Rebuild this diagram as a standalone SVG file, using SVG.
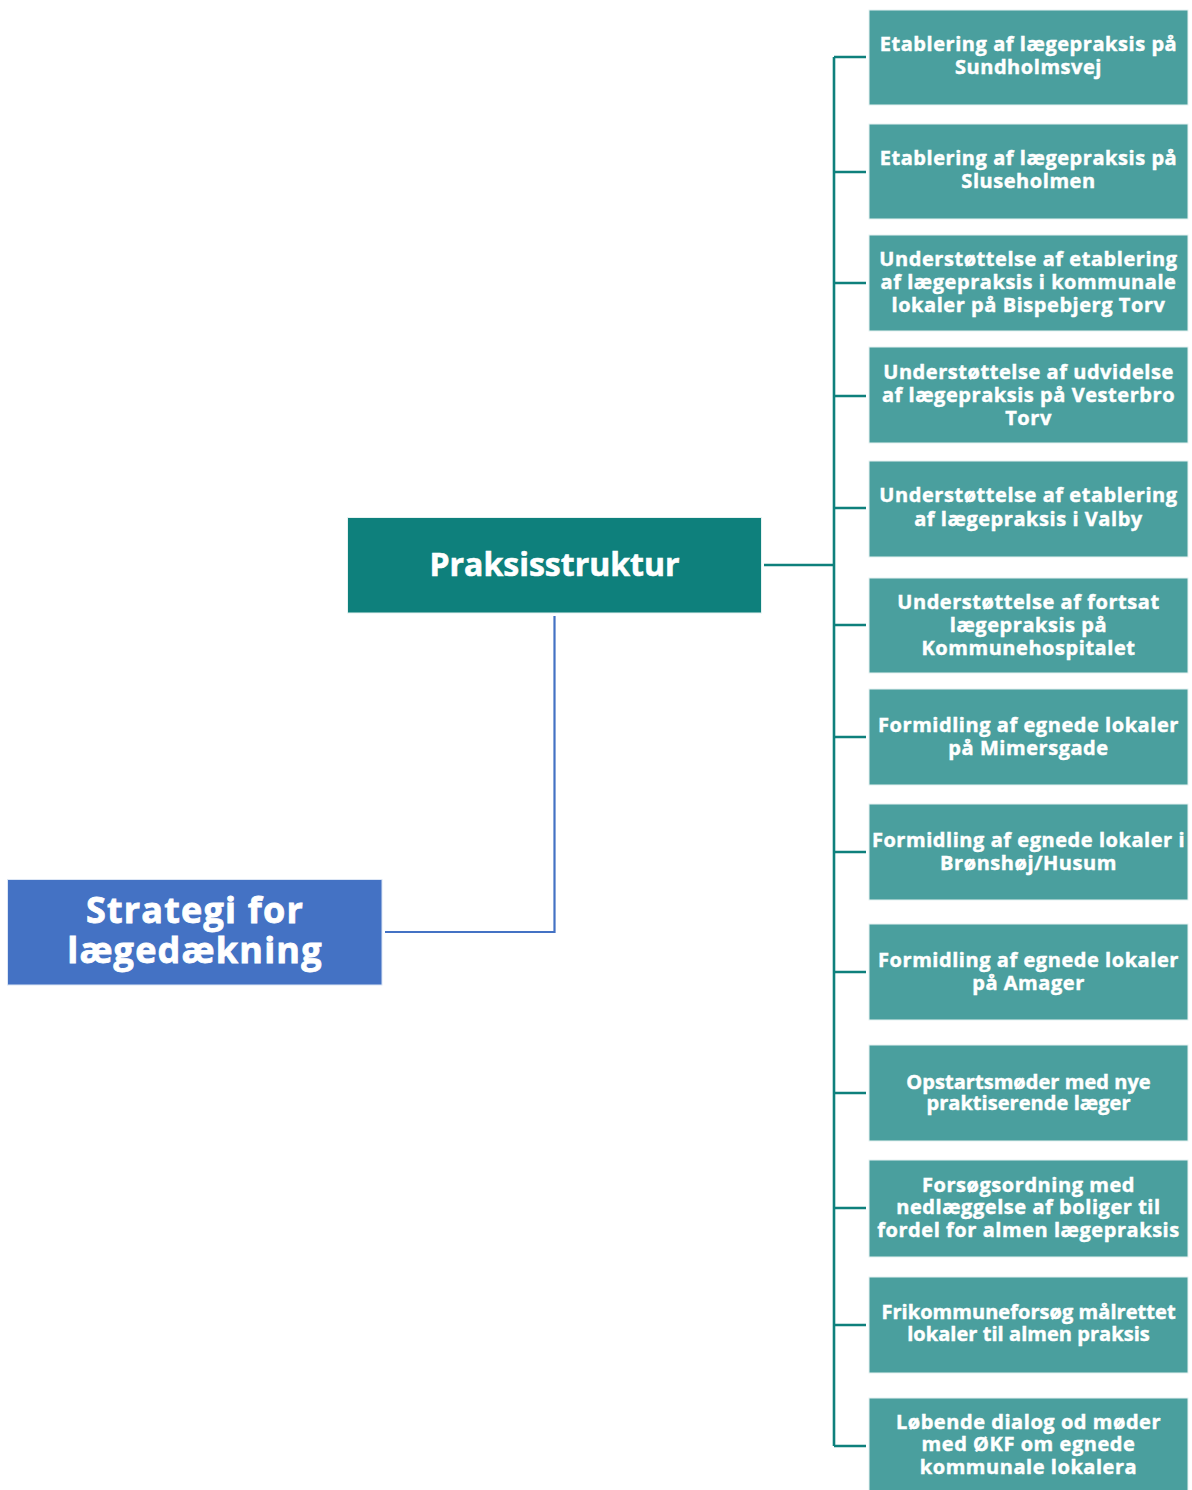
<svg xmlns="http://www.w3.org/2000/svg" width="1192" height="1490" viewBox="0 0 1192 1490">
<style>
  .leaf rect { fill: #4A9F9E; stroke: #E6F2F1; stroke-width: 1; }
  .leaf text { font-family: "Open Sans", "Liberation Sans", sans-serif; font-weight: 700; font-size: 20px; letter-spacing: 0.55px; fill: #FFFFFF; stroke: #FFFFFF; stroke-width: 0.45px; text-anchor: middle; }
  .leaf text.tight { letter-spacing: 0.05px; }
  .mid rect { fill: #0E807C; stroke: #E6F2F1; stroke-width: 1; }
  .mid text { font-family: "Open Sans", "Liberation Sans", sans-serif; font-weight: 700; font-size: 32px; letter-spacing: 0px; fill: #FFFFFF; stroke: #FFFFFF; stroke-width: 0.6px; text-anchor: middle; }
  .root rect { fill: #4472C4; stroke: #DCE6F5; stroke-width: 1; }
  .root text { font-family: "Open Sans", "Liberation Sans", sans-serif; font-weight: 700; font-size: 36px; letter-spacing: 1.2px; fill: #FFFFFF; stroke: #FFFFFF; stroke-width: 0.8px; text-anchor: middle; }
  .teal { stroke: #0E807C; stroke-width: 2.6; fill: none; }
  .blue { stroke: #4472C4; stroke-width: 2.2; fill: none; }
</style>
<rect width="1192" height="1490" fill="#FFFFFF"/>
<g id="connectors">
  <path class="blue" d="M554.5 616 V932 H385"/>
  <path class="teal" d="M764 565 H834"/>
  <path class="teal" d="M834 57 V1446"/>
  <path class="teal" d="M834 57 H866 M834 172 H866 M834 283 H866 M834 396 H866 M834 508 H866 M834 625 H866 M834 737 H866 M834 852 H866 M834 972 H866 M834 1093 H866 M834 1208 H866 M834 1325 H866 M834 1446 H866"/>
</g>
<g id="node-root" class="root">
  <rect x="7.5" y="879.5" width="374.5" height="105.5"/>
  <text x="195" y="923">Strategi for</text>
  <text x="195" y="963">lægedækning</text>
</g>
<g id="node-praksisstruktur" class="mid">
  <rect x="347.5" y="517.5" width="414" height="95.5"/>
  <text x="554.5" y="576">Praksisstruktur</text>
</g>
<g id="node-1" class="leaf">
  <rect x="869" y="10" width="319" height="95"/>
  <text x="1028.5" y="51">Etablering af lægepraksis på</text>
  <text x="1028.5" y="74">Sundholmsvej</text>
</g>
<g id="node-2" class="leaf">
  <rect x="869" y="124" width="319" height="95"/>
  <text x="1028.5" y="165">Etablering af lægepraksis på</text>
  <text x="1028.5" y="188">Sluseholmen</text>
</g>
<g id="node-3" class="leaf">
  <rect x="869" y="235" width="319" height="96"/>
  <text x="1028.5" y="265.5">Understøttelse af etablering</text>
  <text x="1028.5" y="288.5">af lægepraksis i kommunale</text>
  <text x="1028.5" y="311.5">lokaler på Bispebjerg Torv</text>
</g>
<g id="node-4" class="leaf">
  <rect x="869" y="347" width="319" height="96"/>
  <text x="1028.5" y="378.5">Understøttelse af udvidelse</text>
  <text x="1028.5" y="401.5">af lægepraksis på Vesterbro</text>
  <text x="1028.5" y="424.5">Torv</text>
</g>
<g id="node-5" class="leaf">
  <rect x="869" y="461" width="319" height="96"/>
  <text x="1028.5" y="502">Understøttelse af etablering</text>
  <text x="1028.5" y="525.5">af lægepraksis i Valby</text>
</g>
<g id="node-6" class="leaf">
  <rect x="869" y="578" width="319" height="95"/>
  <text x="1028.5" y="608.5">Understøttelse af fortsat</text>
  <text x="1028.5" y="631.5">lægepraksis på</text>
  <text x="1028.5" y="654.5">Kommunehospitalet</text>
</g>
<g id="node-7" class="leaf">
  <rect x="869" y="689" width="319" height="96"/>
  <text x="1028.5" y="731.5">Formidling af egnede lokaler</text>
  <text x="1028.5" y="754.5">på Mimersgade</text>
</g>
<g id="node-8" class="leaf">
  <rect x="869" y="804" width="319" height="96"/>
  <text x="1028.5" y="846.5">Formidling af egnede lokaler i</text>
  <text x="1028.5" y="869.5">Brønshøj/Husum</text>
</g>
<g id="node-9" class="leaf">
  <rect x="869" y="924" width="319" height="96"/>
  <text x="1028.5" y="966.5">Formidling af egnede lokaler</text>
  <text x="1028.5" y="990">på Amager</text>
</g>
<g id="node-10" class="leaf">
  <rect x="869" y="1045" width="319" height="96"/>
  <text class="tight" x="1028.5" y="1089">Opstartsmøder med nye</text>
  <text class="tight" x="1028.5" y="1110">praktiserende læger</text>
</g>
<g id="node-11" class="leaf">
  <rect x="869" y="1160" width="319" height="97"/>
  <text x="1028.5" y="1191.5">Forsøgsordning med</text>
  <text x="1028.5" y="1214">nedlæggelse af boliger til</text>
  <text x="1028.5" y="1236.5">fordel for almen lægepraksis</text>
</g>
<g id="node-12" class="leaf">
  <rect x="869" y="1277" width="319" height="96"/>
  <text class="tight" x="1028.5" y="1319">Frikommuneforsøg målrettet</text>
  <text class="tight" x="1028.5" y="1341">lokaler til almen praksis</text>
</g>
<g id="node-13" class="leaf">
  <rect x="869" y="1398" width="319" height="96"/>
  <text x="1028.5" y="1428.5">Løbende dialog od møder</text>
  <text x="1028.5" y="1451">med ØKF om egnede</text>
  <text x="1028.5" y="1473.5">kommunale lokalera</text>
</g>
</svg>
